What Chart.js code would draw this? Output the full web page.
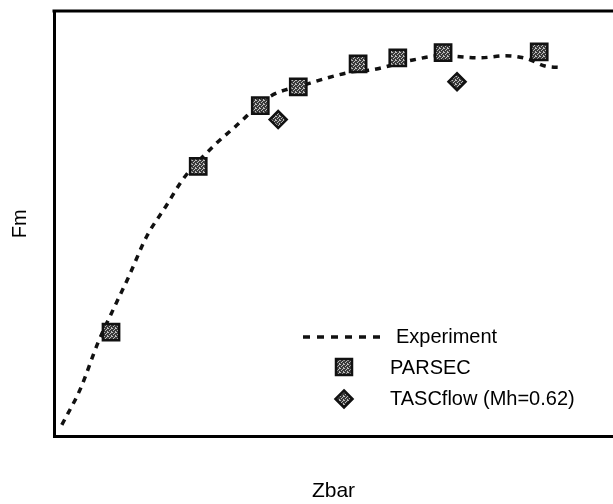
<!DOCTYPE html>
<html>
<head>
<meta charset="utf-8">
<script src="https://cdn.jsdelivr.net/npm/chart.js@4/dist/chart.umd.min.js"></script>
<style>
  html, body { margin: 0; padding: 0; background: #fff; overflow: hidden; }
  #wrap { width: 613px; height: 504px; }
</style>
</head>
<body>
<div id="wrap"><canvas id="grafico" width="613" height="504"></canvas></div>
<script>
// Curva experimental (Zbar, Fm) en unidades normalizadas
const expZbar = [0.014, 0.047, 0.079, 0.102, 0.134, 0.166, 0.200, 0.233, 0.288, 0.324, 0.386, 0.449, 0.533, 0.569, 0.642, 0.691, 0.762, 0.807, 0.846, 0.878, 0.911];
const expFm   = [0.028, 0.112, 0.222, 0.288, 0.377, 0.471, 0.541, 0.609, 0.686, 0.728, 0.799, 0.827, 0.857, 0.862, 0.885, 0.895, 0.890, 0.895, 0.888, 0.871, 0.867];

// Resultados PARSEC
const parsecZbar = [0.102, 0.258, 0.369, 0.437, 0.544, 0.615, 0.696, 0.868];
const parsecFm   = [0.246, 0.635, 0.778, 0.822, 0.876, 0.890, 0.902, 0.904];

// Resultados TASCflow (Mh=0.62)
const tascZbar = [0.401, 0.721];
const tascFm   = [0.745, 0.834];

const etiquetas = ['Experiment', 'PARSEC', 'TASCflow (Mh=0.62)'];

const fuente = '"Liberation Sans", Arial, Helvetica, sans-serif';

function puntos(xs, ys) {
    return xs.map((x, i) => ({ x: x, y: ys[i] }));
}

// Textura gris moteada para los marcadores
function crearTextura() {
    const c = document.createElement('canvas');
    c.width = 4; c.height = 4;
    const g = c.getContext('2d');
    g.fillStyle = '#3a3a3a';
    g.fillRect(0, 0, 4, 4);
    g.fillStyle = '#bdbdbd';
    g.fillRect(0, 0, 1, 1);
    g.fillRect(2, 1, 1, 1);
    g.fillRect(1, 2, 1, 1);
    g.fillRect(3, 3, 1, 1);
    g.fillRect(3, 0, 1, 1);
    return g.createPattern(c, 'repeat');
}
const textura = crearTextura();

// Marco superior (el eje inferior y el izquierdo ya dibujan su borde)
const marco = {
    id: 'marco',
    afterDraw(chart) {
        const { ctx, chartArea } = chart;
        ctx.save();
        ctx.strokeStyle = '#000';
        ctx.lineWidth = 3;
        ctx.beginPath();
        ctx.moveTo(chartArea.left - 1.5, chartArea.top);
        ctx.lineTo(chartArea.right + 2, chartArea.top);
        ctx.stroke();
        ctx.restore();
    }
};

// Leyenda dentro del área del gráfico
const leyenda = {
    id: 'leyenda',
    afterDraw(chart) {
        const { ctx, chartArea } = chart;
        const x0 = chartArea.left + 249;
        const y0 = chartArea.top + 326;
        ctx.save();
        ctx.font = '20px ' + fuente;
        ctx.fillStyle = '#000';
        ctx.textBaseline = 'middle';

        // línea discontinua
        ctx.strokeStyle = '#111';
        ctx.lineWidth = 3.5;
        ctx.setLineDash([7, 7]);
        ctx.beginPath();
        ctx.moveTo(x0, y0);
        ctx.lineTo(x0 + 84, y0);
        ctx.stroke();
        ctx.setLineDash([]);
        ctx.fillText(etiquetas[0], x0 + 93, y0);

        // cuadrado
        const ds1 = chart.data.datasets[1];
        ctx.fillStyle = ds1.backgroundColor;
        ctx.strokeStyle = ds1.borderColor;
        ctx.lineWidth = 2.5;
        ctx.beginPath();
        ctx.rect(x0 + 33, y0 + 22, 16, 16);
        ctx.fill();
        ctx.stroke();
        ctx.fillStyle = '#000';
        ctx.fillText(etiquetas[1], x0 + 87, y0 + 31);

        // rombo
        const ds2 = chart.data.datasets[2];
        const cx = x0 + 41, cy = y0 + 62, r = 8.5;
        ctx.fillStyle = ds2.backgroundColor;
        ctx.strokeStyle = ds2.borderColor;
        ctx.beginPath();
        ctx.moveTo(cx, cy - r);
        ctx.lineTo(cx + r, cy);
        ctx.lineTo(cx, cy + r);
        ctx.lineTo(cx - r, cy);
        ctx.closePath();
        ctx.fill();
        ctx.stroke();
        ctx.fillStyle = '#000';
        ctx.fillText(etiquetas[2], x0 + 87, y0 + 62);
        ctx.restore();
    }
};

new Chart(document.getElementById('grafico'), {
    type: 'scatter',
    data: {
        datasets: [
            {
                label: etiquetas[0],
                data: puntos(expZbar, expFm),
                showLine: true,
                borderColor: '#111',
                borderWidth: 3.5,
                borderDash: [6, 6],
                cubicInterpolationMode: 'monotone',
                pointRadius: 0,
                order: 2
            },
            {
                label: etiquetas[1],
                data: puntos(parsecZbar, parsecFm),
                pointStyle: 'rect',
                pointRadius: 11.5,
                backgroundColor: textura,
                borderColor: '#111',
                borderWidth: 2.5,
                order: 1
            },
            {
                label: etiquetas[2],
                data: puntos(tascZbar, tascFm),
                pointStyle: 'rectRot',
                pointRadius: 8.5,
                backgroundColor: textura,
                borderColor: '#111',
                borderWidth: 2.5,
                order: 0
            }
        ]
    },
    options: {
        responsive: false,
        animation: false,
        layout: { autoPadding: false, padding: { top: 11, left: 0, right: 0, bottom: 0 } },
        plugins: {
            legend: { display: false },
            tooltip: { enabled: false }
        },
        scales: {
            x: {
                type: 'linear',
                min: 0,
                max: 1,
                grid: { display: false, drawTicks: false },
                border: { display: true, color: '#000', width: 3 },
                ticks: { display: false },
                title: {
                    display: true,
                    text: 'Zbar',
                    color: '#000',
                    font: { family: fuente, size: 21 },
                    padding: { top: 42, bottom: 0 }
                }
            },
            y: {
                type: 'linear',
                min: 0,
                max: 1,
                grid: { display: false, drawTicks: false },
                border: { display: true, color: '#000', width: 3 },
                ticks: { display: false },
                title: {
                    display: true,
                    text: 'Fm',
                    color: '#000',
                    font: { family: fuente, size: 20 },
                    padding: { top: 8, bottom: 22 }
                }
            }
        }
    },
    plugins: [marco, leyenda]
});
</script>
</body>
</html>
